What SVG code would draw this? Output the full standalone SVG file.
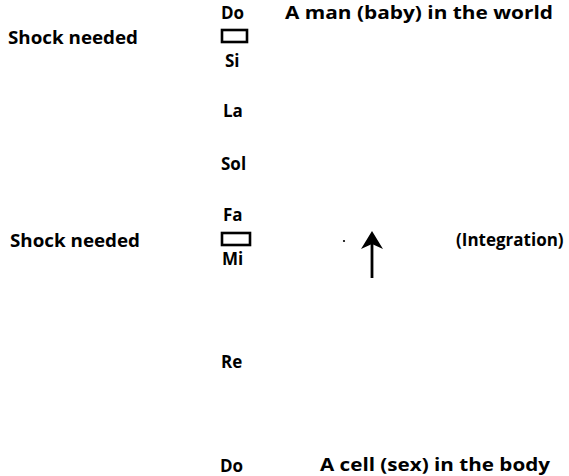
<svg xmlns="http://www.w3.org/2000/svg" width="569" height="476" viewBox="0 0 569 476">
<style>
text{font-family:"Open Sans","Liberation Sans",sans-serif;font-weight:700;font-size:17px;fill:#000}
.box{fill:none;stroke:#000;stroke-width:2.6}
</style>
<rect width="569" height="476" fill="#fff"/>
<g id="note-do-top"><text x="221" y="19">Do</text></g>
<g id="label-man"><text x="285" y="19" textLength="268" lengthAdjust="spacingAndGlyphs">A man (baby) in the world</text></g>
<g id="shock-1"><text x="8" y="44" textLength="130" lengthAdjust="spacingAndGlyphs">Shock needed</text><rect class="box" x="222" y="30" width="25" height="12"/></g>
<g id="note-si"><text x="225" y="67">Si</text></g>
<g id="note-la"><text x="223" y="117">La</text></g>
<g id="note-sol"><text x="221" y="170">Sol</text></g>
<g id="note-fa"><text x="223" y="221">Fa</text></g>
<g id="shock-2"><text x="10" y="247" textLength="130" lengthAdjust="spacingAndGlyphs">Shock needed</text><rect class="box" x="222" y="233" width="28" height="12"/></g>
<g id="note-mi"><text x="222" y="265">Mi</text></g>
<g id="label-integration"><text x="456" y="246">(Integration)</text></g>
<g id="note-re"><text x="221" y="368">Re</text></g>
<g id="note-do-bottom"><text x="220" y="472">Do</text></g>
<g id="label-cell"><text x="320" y="471" textLength="230" lengthAdjust="spacingAndGlyphs">A cell (sex) in the body</text></g>
<g id="connectors">
<line x1="372" y1="278" x2="372" y2="242" stroke="#000" stroke-width="2.8"/>
<polygon points="372,231 383,249 372,244 361,249" fill="#000"/>
<circle cx="344" cy="241" r="1.1" fill="#000"/>
</g>
</svg>
